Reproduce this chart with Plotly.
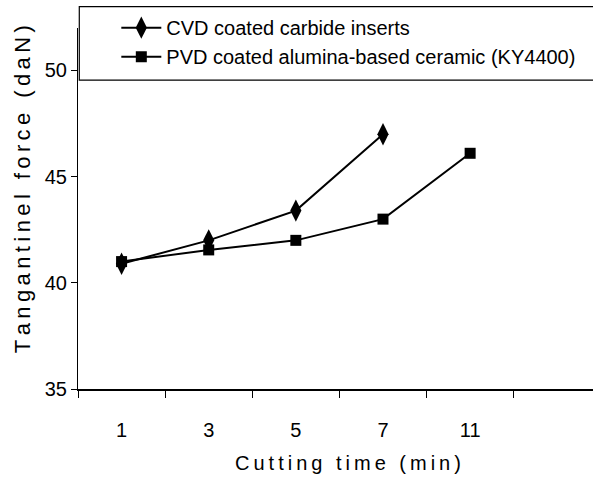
import plotly.graph_objects as go

categories = ["1", "3", "5", "7", "11"]
cvd_x = ["1", "3", "5", "7"]
cvd_force = [40.9, 42.0, 43.4, 47.0]
pvd_x = ["1", "3", "5", "7", "11"]
pvd_force = [41.0, 41.55, 42.0, 43.0, 46.1]
y_ticks = [35, 40, 45, 50]
x_title = "Cutting time (min)"
y_title = "Tangantinel force (daN)"

FONT = "Liberation Sans, Arial, sans-serif"

def spaced(s):
    return "\u2009".join(list(s))

fig = go.Figure()
fig.add_trace(go.Scatter(
    x=cvd_x, y=cvd_force, mode="lines+markers",
    name="CVD coated carbide inserts",
    line=dict(color="black", width=2),
    marker=dict(symbol="diamond-tall", size=16, color="black"),
))
fig.add_trace(go.Scatter(
    x=pvd_x, y=pvd_force, mode="lines+markers",
    name="PVD coated alumina-based ceramic (KY4400)",
    line=dict(color="black", width=2),
    marker=dict(symbol="square", size=11, color="black"),
))

# legend frame
fig.add_shape(type="rect", xref="paper", yref="paper",
              x0=0.0025, x1=1.05, y0=0.8558, y1=1.059,
              line=dict(color="black", width=1.2), fillcolor="rgba(0,0,0,0)")

fig.add_annotation(text=spaced(x_title), xref="paper", yref="paper",
                   x=0.524, y=-0.206, xanchor="center", yanchor="middle",
                   showarrow=False, font=dict(size=20))
fig.add_annotation(text=spaced(y_title), xref="paper", yref="paper",
                   x=-0.1087, y=0.5535, xanchor="center", yanchor="middle",
                   textangle=-90, showarrow=False, font=dict(size=22))

fig.update_layout(
    width=593, height=482,
    margin=dict(l=78, r=0, t=28, b=93),
    paper_bgcolor="white", plot_bgcolor="white",
    font=dict(family=FONT, color="black", size=20),
    showlegend=True,
    legend=dict(x=0.0744, y=1.055, xanchor="left", yanchor="top",
                bgcolor="rgba(0,0,0,0)", borderwidth=0,
                font=dict(size=20, family=FONT), tracegroupgap=0,
                itemwidth=40),
    xaxis=dict(
        type="category", categoryorder="array", categoryarray=categories,
        range=[-0.5, 5.41], tickson="boundaries",
        ticks="outside", ticklen=7, tickwidth=1, tickcolor="black",
        showline=True, linecolor="black", linewidth=2,
        showgrid=False, zeroline=False,
        tickfont=dict(size=20), ticklabelstandoff=22,
    ),
    yaxis=dict(
        range=[35, 52], tickvals=y_ticks,
        ticks="outside", ticklen=6, tickwidth=1, tickcolor="black",
        showline=True, linecolor="black", linewidth=1,
        showgrid=False, zeroline=False,
        tickfont=dict(size=20),
    ),
)

fig.write_html("out.html")
